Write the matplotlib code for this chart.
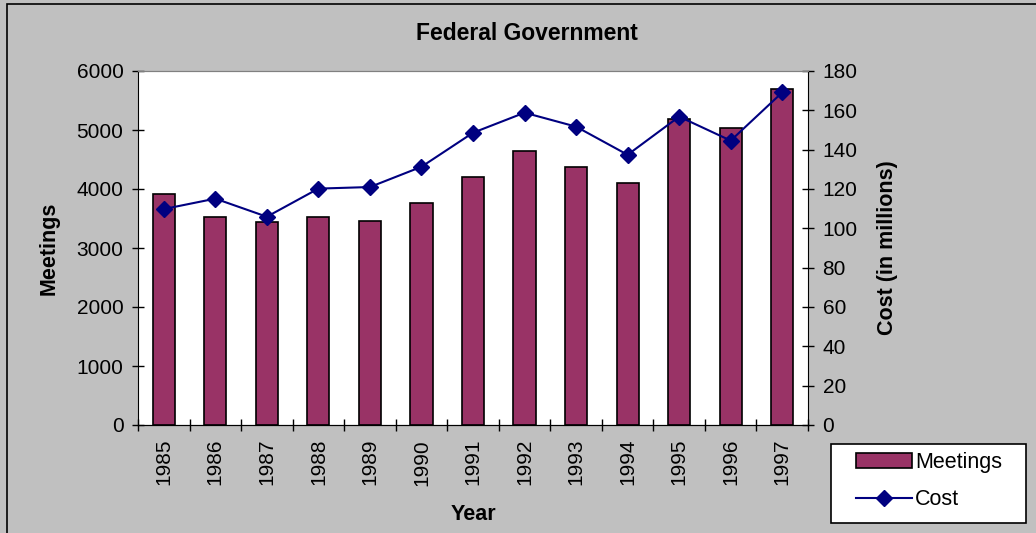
import numpy as np
import matplotlib.pyplot as plt
from matplotlib.patches import Rectangle

plt.rcParams['font.family'] = ['Liberation Sans', 'DejaVu Sans']

years = ['1985', '1986', '1987', '1988', '1989', '1990', '1991',
         '1992', '1993', '1994', '1995', '1996', '1997']
meetings = [3910, 3530, 3435, 3530, 3465, 3770, 4210,
            4650, 4380, 4105, 5190, 5030, 5695]
cost = [109.8, 115.1, 105.9, 120.2, 121.0, 131.3, 148.6,
        158.8, 151.7, 137.4, 156.8, 144.6, 169.1]

fig = plt.figure(figsize=(10.36, 5.33), dpi=100)
fig.patch.set_facecolor('#C0C0C0')
# chart area border (only top and left visible in the crop)
fig.add_artist(Rectangle((7/1036, -0.1), 1.2, 1 - 4/533 + 0.1,
                         transform=fig.transFigure, fill=False,
                         edgecolor='black', lw=1.2))

ax = fig.add_axes([138/1036, 1 - 425/533, 670/1036, 354/533])
ax.set_facecolor('white')
x = np.arange(len(years))
ax.bar(x, meetings, width=0.43, color='#993366', edgecolor='black',
       linewidth=1.2, label='Meetings', zorder=2)
ax.set_xlim(-0.5, len(years) - 0.5)
ax.set_ylim(0, 6000)
ax.set_yticks(np.arange(0, 6001, 1000))
ax.set_xticks(x)
ax.set_xticklabels(years, rotation=90, fontsize=15)
ax.set_xticks(np.arange(-0.5, len(years)), minor=True)
ax.tick_params(axis='x', which='major', length=0, pad=10)
ax.tick_params(axis='x', which='minor', direction='inout', length=9, width=1)
ax.tick_params(axis='y', direction='inout', length=9, width=1, labelsize=15, pad=6)
ax.spines['top'].set_color('#808080')
ax.spines['right'].set_visible(False)
ax.set_ylabel('Meetings', fontsize=15.5, fontweight='bold', labelpad=12)
ax.set_xlabel('Year', fontsize=15.5, fontweight='bold', labelpad=13)

ax2 = ax.twinx()
ax2.plot(x, cost, color='#000080', marker='D', markersize=8, lw=1.5,
         label='Cost', zorder=3)
ax2.set_ylim(0, 180)
ax2.set_yticks(np.arange(0, 181, 20))
ax2.tick_params(axis='y', direction='inout', length=9, width=1, labelsize=15, pad=6)
ax2.spines['top'].set_color('#808080')
ax2.spines['left'].set_visible(False)
ax2.set_ylabel('Cost (in millions)', fontsize=15.5, fontweight='bold', labelpad=14)

fig.text(527/1036, 1 - 34/533, 'Federal Government', ha='center', va='center',
         fontsize=16.5, fontweight='bold')

# legend frame drawn separately so the padding can match
fig.add_artist(Rectangle((831/1036, 1 - 523/533), 195/1036, 79/533,
                         transform=fig.transFigure, facecolor='white',
                         edgecolor='black', lw=1.2, zorder=5))
h1, l1 = ax.get_legend_handles_labels()
h2, l2 = ax2.get_legend_handles_labels()
leg = fig.legend(h1 + h2, l1 + l2, loc='center left',
                 bbox_to_anchor=(856/1036, 1 - 481/533), fontsize=15.5,
                 frameon=False, handlelength=2.6, borderpad=0,
                 labelspacing=0.78, handletextpad=0.15, borderaxespad=0)
leg.set_zorder(6)

fig.savefig('out.png', dpi=100, facecolor=fig.get_facecolor())
